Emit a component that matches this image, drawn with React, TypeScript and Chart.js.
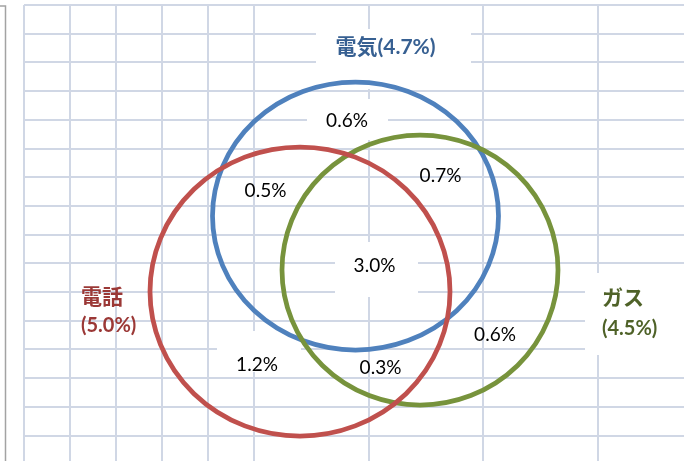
import { useEffect, useRef } from 'react';
import { Chart, BubbleController, registerables } from 'chart.js';

// ---- Sets of the Venn diagram (order: drawn top-most first) ----
const setNames = ['電話', 'ガス', '電気'];
const setShares = ['(5.0%)', '(4.5%)', '(4.7%)'];
const setCenterX = [300, 420, 355.5];
const setCenterY = [291.5, 270, 216];
const setRadiusX = [150, 138, 143];
const setRadiusY = [144.5, 135, 134];

// ---- Region (overlap) values ----
const regionValues = ['0.6%', '0.5%', '0.7%', '3.0%', '1.2%', '0.3%', '0.6%'];
const regionX = [347, 265.5, 440.5, 374.5, 257, 380.5, 495];
const regionY = [120.7, 190.7, 176, 266, 365, 368, 335];

// ---- Sheet grid positions ----
const gridColumns = [24, 70, 116, 162, 208, 254, 369, 483, 598];
const gridRows = [5, 33.7, 62.4, 91.1, 119.8, 148.5, 177.2, 205.9, 234.6, 263.3, 292, 320.7, 349.4, 378.1, 406.8, 435.5];

// ---- Styles ----
const circleColors = ['#c0504d', '#77933c', '#4f81bd'];
const labelColors = ['#9b3836', '#4f6228', '#376092'];
const gridColor = '#d0d7e5';

// white label boxes that hide the grid: [x0, y0, x1, y1]
const boxX0 = [316, 307, 335, 217, 585];
const boxY0 = [29, 99, 242, 331, 273];
const boxX1 = [471, 388, 418, 301, 684];
const boxY1 = [89, 140, 297, 372, 355];

class VennEllipseController extends BubbleController {
  static id = 'vennEllipse';
  static defaults = { ...(BubbleController as any).defaults };
  static overrides = { ...(BubbleController as any).overrides };
  draw() {
    const self = this as any;
    const meta = self._cachedMeta;
    const ctx = self.chart.ctx as CanvasRenderingContext2D;
    const ds = self.getDataset();
    const xs = meta.xScale;
    const ys = meta.yScale;
    for (const d of ds.data) {
      const cx = xs.getPixelForValue(d.x);
      const cy = ys.getPixelForValue(d.y);
      const rx = Math.abs(xs.getPixelForValue(d.x + d.rx) - cx);
      const ry = Math.abs(ys.getPixelForValue(d.y + d.ry) - cy);
      ctx.save();
      ctx.beginPath();
      ctx.ellipse(cx, cy, rx, ry, 0, 0, Math.PI * 2);
      ctx.lineWidth = ds.borderWidth;
      ctx.strokeStyle = ds.borderColor;
      ctx.stroke();
      ctx.restore();
    }
  }
}

Chart.register(...registerables, VennEllipseController as any);

const vennPlugin = {
  id: 'vennDecor',
  beforeDraw(chart: any) {
    const ctx = chart.ctx as CanvasRenderingContext2D;
    ctx.save();
    ctx.fillStyle = '#ffffff';
    ctx.fillRect(0, 0, chart.width, chart.height);
    ctx.strokeStyle = '#a3a3a3';
    ctx.lineWidth = 1.5;
    ctx.beginPath();
    ctx.moveTo(0, 6);
    ctx.lineTo(5.5, 6);
    ctx.lineTo(5.5, chart.height);
    ctx.stroke();
    ctx.restore();
  },
  beforeDatasetsDraw(chart: any) {
    const ctx = chart.ctx as CanvasRenderingContext2D;
    const xs = chart.scales.x;
    const ys = chart.scales.y;
    ctx.save();
    ctx.fillStyle = '#ffffff';
    for (let i = 0; i < boxX0.length; i++) {
      const x0 = xs.getPixelForValue(boxX0[i]);
      const x1 = xs.getPixelForValue(boxX1[i]);
      const y0 = ys.getPixelForValue(boxY0[i]);
      const y1 = ys.getPixelForValue(boxY1[i]);
      ctx.fillRect(x0, y0, x1 - x0, y1 - y0);
    }
    ctx.restore();
  },
  afterDatasetsDraw(chart: any) {
    const ctx = chart.ctx as CanvasRenderingContext2D;
    const xs = chart.scales.x;
    const ys = chart.scales.y;
    ctx.save();
    ctx.textBaseline = 'middle';
    // region values
    ctx.fillStyle = '#000000';
    ctx.font = '19px Lato, "Noto Sans", sans-serif';
    ctx.textAlign = 'center';
    regionValues.forEach((v, i) => {
      ctx.fillText(v, xs.getPixelForValue(regionX[i]), ys.getPixelForValue(regionY[i]));
    });
    // set labels
    const cjkFont = 'bold 21px Lato, "Noto Sans CJK JP", sans-serif';
    const pctFont = 'bold 20px Lato, "Noto Sans CJK JP", sans-serif';
    // 電話 (left, two lines)
    ctx.textAlign = 'left';
    ctx.fillStyle = labelColors[0];
    ctx.font = cjkFont;
    ctx.fillText(setNames[0], xs.getPixelForValue(81), ys.getPixelForValue(297));
    ctx.font = pctFont;
    ctx.fillText(setShares[0], xs.getPixelForValue(81), ys.getPixelForValue(326));
    // ガス (right, two lines)
    ctx.fillStyle = labelColors[1];
    ctx.font = cjkFont;
    ctx.fillText(setNames[1], xs.getPixelForValue(602), ys.getPixelForValue(298));
    ctx.font = pctFont;
    ctx.fillText(setShares[1], xs.getPixelForValue(602), ys.getPixelForValue(329));
    // 電気 (top, one line)
    ctx.textAlign = 'center';
    ctx.fillStyle = labelColors[2];
    ctx.font = cjkFont;
    ctx.fillText(setNames[2] + setShares[2], xs.getPixelForValue(385.5), ys.getPixelForValue(47));
    ctx.restore();
  },
};

export default function App() {
  const ref = useRef<HTMLCanvasElement>(null);
  useEffect(() => {
    const canvas = ref.current;
    if (!canvas) return;
    const datasets = setNames.map((name, i) => ({
      label: name,
      data: [{ x: setCenterX[i], y: setCenterY[i], rx: setRadiusX[i], ry: setRadiusY[i] }],
      borderColor: circleColors[i],
      borderWidth: 4.75,
      order: i,
    }));
    const chart = new Chart(canvas, {
      type: 'vennEllipse' as any,
      data: { datasets },
      options: {
        animation: false,
        responsive: false,
        events: [],
        layout: { padding: { left: 24, top: 5, right: 0, bottom: 0 }, autoPadding: false },
        plugins: { legend: { display: false }, tooltip: { enabled: false } },
        scales: {
          x: {
            type: 'linear',
            min: 24,
            max: 684,
            border: { display: false },
            grid: { color: gridColor, lineWidth: 2, drawTicks: false },
            ticks: { display: false },
            afterBuildTicks: (scale: any) => {
              scale.ticks = gridColumns.map((v) => ({ value: v }));
            },
          },
          y: {
            type: 'linear',
            min: 5,
            max: 461,
            reverse: true,
            border: { display: false },
            grid: { color: gridColor, lineWidth: 2, drawTicks: false },
            ticks: { display: false },
            afterBuildTicks: (scale: any) => {
              scale.ticks = gridRows.map((v) => ({ value: v }));
            },
          },
        },
      } as any,
      plugins: [vennPlugin],
    });
    return () => chart.destroy();
  }, []);
  return (
    <div style={{ position: 'absolute', left: 0, top: 0, width: 684, height: 461, background: '#ffffff' }}>
      <canvas ref={ref} width={684} height={461} style={{ display: 'block' }} />
    </div>
  );
}
